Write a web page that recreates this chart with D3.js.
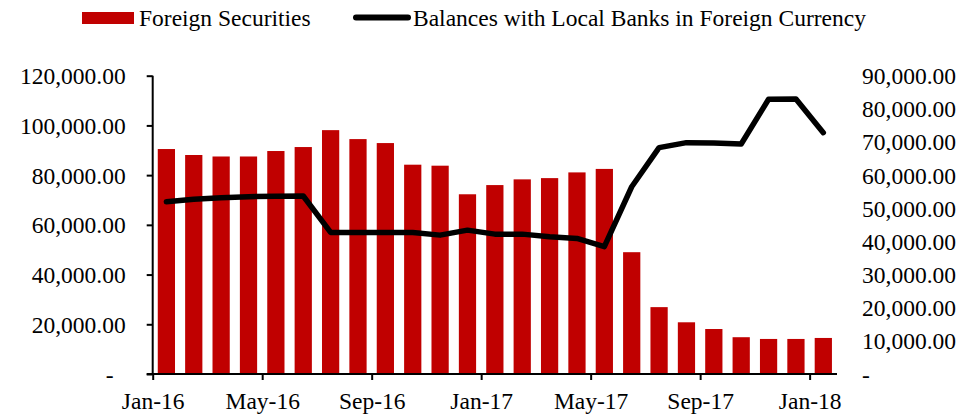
<!DOCTYPE html>
<html>
<head>
<meta charset="utf-8">
<script src="https://cdn.jsdelivr.net/npm/d3@7"></script>
<style>
    body { margin: 0; background: #fff; }
    svg { display: block; }
    svg text { font-family: "Liberation Serif", "Times New Roman", serif; }
</style>
</head>
<body>
<div class="chart"></div>
<script>
const months = ["Jan-16", "Feb-16", "Mar-16", "Apr-16", "May-16", "Jun-16", "Jul-16", "Aug-16", "Sep-16",
    "Oct-16", "Nov-16", "Dec-16", "Jan-17", "Feb-17", "Mar-17", "Apr-17", "May-17", "Jun-17", "Jul-17",
    "Aug-17", "Sep-17", "Oct-17", "Nov-17", "Dec-17", "Jan-18"]

// left axis (bars)
const foreignSecurities = [90500, 88100, 87500, 87500, 89700, 91300, 98100, 94500, 92900,
    84200, 83800, 72300, 76000, 78300, 78800, 81100, 82500, 49000, 26900,
    20800, 18100, 14800, 14100, 14100, 14500]

// right axis (line)
const localBanks = [52000, 52700, 53200, 53500, 53600, 53700, 42700, 42700, 42700,
    42700, 41900, 43400, 42200, 42200, 41400, 40900, 38400, 56500, 68300,
    69800, 69700, 69400, 82900, 83000, 72800]

const leftTicks = [0, 20000, 40000, 60000, 80000, 100000, 120000]
const rightTicks = [0, 10000, 20000, 30000, 40000, 50000, 60000, 70000, 80000, 90000]
const xTickIdx = [0, 4, 8, 12, 16, 20, 24]

const width = 968
const height = 414
const plot = { left: 152.7, right: 837, top: 75.7, bottom: 374 }
const fontSize = "23.5px"
const serif = "Liberation Serif, Times New Roman, serif"
const red = "#c00000"

const svg = d3.select(".chart")
    .append("svg")
    .attr("width", width)
    .attr("height", height)

const x = d3.scaleBand()
    .domain(months)
    .range([plot.left, plot.right])
    .paddingInner(0.37)
    .paddingOuter(0.185)

// month index -> position, for the tick marks at band edges
const xIdx = d3.scaleLinear().domain([0, months.length]).range([plot.left, plot.right])

const yLeft = d3.scaleLinear().domain([0, 120000]).range([plot.bottom, plot.top])
const yRight = d3.scaleLinear().domain([0, 90000]).range([plot.bottom, plot.top])

const fmt = d => d === 0 ? "-" : d3.format(",.2f")(d)

// bars
svg.append("g")
    .selectAll("rect")
    .data(foreignSecurities)
    .join("rect")
    .attr("x", (d, i) => x(months[i]))
    .attr("y", d => yLeft(d))
    .attr("width", x.bandwidth())
    .attr("height", d => yLeft(0) - yLeft(d))
    .attr("fill", red)

// left axis
svg.append("g")
    .attr("transform", `translate(${plot.left}, 0)`)
    .call(d3.axisLeft(yLeft).tickValues(leftTicks).tickFormat(fmt).tickSize(6).tickPadding(21))
    .attr("font-family", serif)
    .call(g => g.selectAll("path, line").attr("stroke", "#000").attr("stroke-width", 2))
    .call(g => g.select(".domain").attr("d", `M0,${plot.bottom}V${plot.top}`))
    .selectAll(".tick text")
    .style("font-size", fontSize)
    .attr("fill", "#000")
    .attr("dy", "0.34em")
    .attr("dx", d => d === 0 ? -12 : 0)

// right axis, labels only
svg.append("g")
    .attr("transform", `translate(${plot.right}, 0)`)
    .call(d3.axisRight(yRight).tickValues(rightTicks).tickFormat(fmt).tickSize(0).tickPadding(25))
    .attr("font-family", serif)
    .call(g => g.select(".domain").remove())
    .selectAll(".tick text")
    .style("font-size", fontSize)
    .attr("fill", "#000")
    .attr("dy", "0.34em")

// bottom axis
svg.append("g")
    .attr("transform", `translate(0, ${plot.bottom})`)
    .call(d3.axisBottom(xIdx).tickValues(xTickIdx).tickFormat(i => months[i]).tickSize(6).tickSizeOuter(0).tickPadding(12))
    .attr("font-family", serif)
    .call(g => g.selectAll("path, line").attr("stroke", "#000").attr("stroke-width", 2))
    .call(g => g.select(".domain").attr("d", `M${plot.left - 6},0H${plot.right}`))
    .selectAll(".tick text")
    .style("font-size", fontSize)
    .attr("fill", "#000")

// line
const line = d3.line()
    .x((d, i) => x(months[i]) + x.bandwidth() / 2)
    .y(d => yRight(d))

svg.append("path")
    .datum(localBanks)
    .attr("fill", "none")
    .attr("stroke", "#000")
    .attr("stroke-width", 5.5)
    .attr("stroke-linejoin", "round")
    .attr("stroke-linecap", "round")
    .attr("d", line)

// legend
const legend = svg.append("g").style("font-size", fontSize)
legend.append("rect")
    .attr("x", 82).attr("y", 12).attr("width", 52).attr("height", 12)
    .attr("fill", red)
legend.append("text")
    .attr("x", 139).attr("y", 26)
    .text("Foreign Securities")
legend.append("line")
    .attr("x1", 356).attr("x2", 408).attr("y1", 17.5).attr("y2", 17.5)
    .attr("stroke", "#000").attr("stroke-width", 6).attr("stroke-linecap", "round")
legend.append("text")
    .attr("x", 413).attr("y", 26)
    .text("Balances with Local Banks in Foreign Currency")
</script>
</body>
</html>
